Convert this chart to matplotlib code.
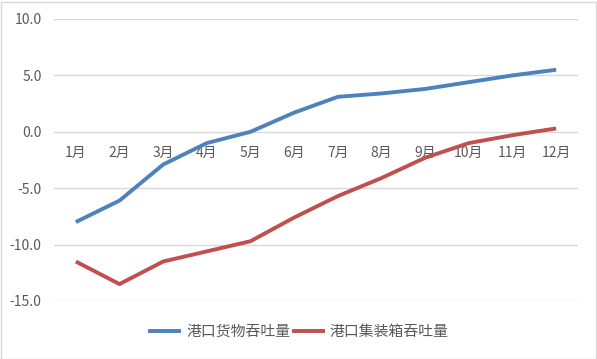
import matplotlib
matplotlib.use("Agg")
import matplotlib.pyplot as plt
from matplotlib.patches import Rectangle

plt.rcParams['font.family'] = ['Noto Sans CJK SC', 'DejaVu Sans']

months = ['1月', '2月', '3月', '4月', '5月', '6月', '7月', '8月', '9月', '10月', '11月', '12月']
cargo = [-8.0, -6.1, -2.9, -1.0, 0.0, 1.7, 3.1, 3.4, 3.8, 4.4, 5.0, 5.5]
container = [-11.5, -13.5, -11.5, -10.6, -9.7, -7.6, -5.7, -4.1, -2.3, -1.0, -0.3, 0.3]

W, H = 597, 359
fig = plt.figure(figsize=(W / 100, H / 100), dpi=100)
ax = fig.add_axes([54 / W, 1 - 301 / H, (578 - 54) / W, (301 - 19) / H])

x = list(range(len(months)))
ax.plot(x, cargo, color='#4F81BD', lw=2.8, label='港口货物吞吐量', solid_capstyle='butt')
ax.plot(x, container, color='#C0504D', lw=2.8, label='港口集装箱吞吐量', solid_capstyle='butt')

ax.set_xlim(-0.5, len(months) - 0.5)
ax.set_ylim(-15, 10)
ax.set_yticks([-15, -10, -5, 0, 5, 10])
ax.set_yticklabels(['%.1f' % v for v in [-15, -10, -5, 0, 5, 10]])
ax.yaxis.grid(True, color='#D9D9D9', lw=1)
ax.set_axisbelow(True)
for s in ax.spines.values():
    s.set_visible(False)

ax.spines['bottom'].set_position(('data', 0))
ax.set_xticks(x)
ax.set_xticklabels(months)
ax.tick_params(axis='x', length=0, pad=10, labelsize=10, labelcolor='#595959')
ax.tick_params(axis='y', length=0, pad=9, labelsize=10, labelcolor='#595959')

# legend centred on the whole chart, like Excel does
fig.legend(loc='center', bbox_to_anchor=(0.5, 1 - 332 / H), ncol=2,
           frameon=False, fontsize=10.7, handlelength=2.2, handletextpad=0.35,
           columnspacing=0.1, labelcolor='#595959')

fig.patches.append(Rectangle((0.5 / W, 0.5 / H), 1 - 2 / W, 1 - 2 / H, transform=fig.transFigure,
                             fill=False, edgecolor='#D9D9D9', lw=1))

fig.savefig('out.png', dpi=100, facecolor='white')
